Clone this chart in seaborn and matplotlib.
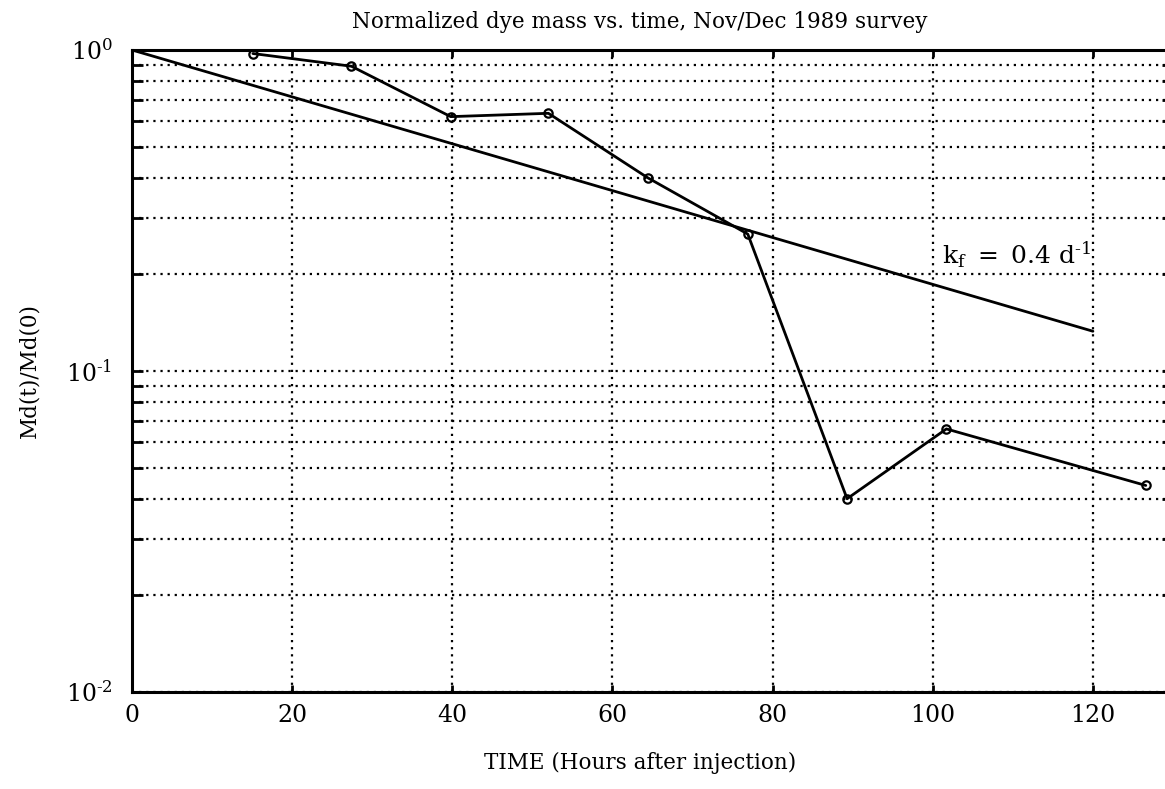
"""
Normalized dye mass vs. time (Nov/Dec 1989 survey), log-scale plot
"""

import numpy as np
import pandas as pd
import matplotlib
matplotlib.use("Agg")
import matplotlib.pyplot as plt
from matplotlib.ticker import LogLocator, NullFormatter, FixedLocator, FuncFormatter
import seaborn as sns

# Measured dye mass (normalized) at each survey time
time_hours = [15.1, 27.4, 39.8, 52.0, 64.4, 76.9, 89.3, 101.7, 126.6]
mass_ratio = [0.975, 0.89, 0.62, 0.635, 0.40, 0.267, 0.040, 0.066, 0.044]

# First-order decay fit, endpoints
fit_time = [0, 120]
fit_mass = [1.0, 0.133]

x_ticks = [0, 20, 40, 60, 80, 100, 120]

sns.set_theme(style="ticks")
plt.rcParams['font.family'] = ['DejaVu Serif']
plt.rcParams['mathtext.fontset'] = 'dejavuserif'
plt.rcParams['text.color'] = 'black'
plt.rcParams['axes.labelcolor'] = 'black'

W, H = 1165, 789
fig = plt.figure(figsize=(W / 100, H / 100), dpi=100)
# axes runs a little past the right edge, as in the scanned original
ax = fig.add_axes([132 / W, 1 - 692 / H, (1173 - 132) / W, (692 - 50) / H])

meas = pd.DataFrame({'t': time_hours, 'm': mass_ratio})
fit = pd.DataFrame({'t': fit_time, 'm': fit_mass})

sns.lineplot(data=fit, x='t', y='m', ax=ax, color='black', linewidth=2.0)
sns.lineplot(data=meas, x='t', y='m', ax=ax, color='black', linewidth=2.0,
             marker='o', markersize=6, markerfacecolor='none',
             markeredgecolor='black', markeredgewidth=1.6)

ax.set_yscale('log')
ax.set_xlim(0, 130)
ax.set_ylim(0.01, 1.0)


def decade_label(v, pos):
    # short hyphen in the exponent, like the original
    exp = int(round(np.log10(v)))
    sign = r'\text{-}' if exp < 0 else ''
    return r'$\mathregular{10^{%s%d}}$' % (sign, abs(exp))


ax.xaxis.set_major_locator(FixedLocator(x_ticks))
ax.yaxis.set_major_locator(LogLocator(base=10))
ax.yaxis.set_major_formatter(FuncFormatter(decade_label))
ax.yaxis.set_minor_locator(LogLocator(base=10, subs=np.arange(2, 10)))
ax.yaxis.set_minor_formatter(NullFormatter())

# dotted grid on every major/minor position
dot = (0, (1.0, 2.2))
ax.grid(which='major', axis='x', color='black', linestyle=dot, linewidth=1.6)
ax.grid(which='both', axis='y', color='black', linestyle=dot, linewidth=1.6)

ax.tick_params(axis='both', which='both', direction='in', colors='black',
               top=True, right=True, width=2.0)
ax.tick_params(axis='x', which='major', length=5, labelsize=17, pad=9)
ax.tick_params(axis='y', which='both', length=8, labelsize=17, pad=14)

for side in ['left', 'bottom', 'top', 'right']:
    ax.spines[side].set_linewidth(2.2)
    ax.spines[side].set_color('black')

ax.set_title('Normalized dye mass vs. time, Nov/Dec 1989 survey',
             fontsize=15.5, pad=16, x=0.488)
ax.set_xlabel('TIME (Hours after injection)', fontsize=15.5)
ax.set_ylabel('Md(t)/Md(0)', fontsize=15.5)
ax.xaxis.set_label_coords((640 - 132) / (1173 - 132), -(752 - 692) / (692 - 50))
ax.yaxis.set_label_coords(-(132 - 40) / (1173 - 132), 0.5)

ax.text(101.1, 0.23, r'$\mathregular{k_f\ =\ 0.4\ d^{\text{-}1}}$', fontsize=18,
        ha='left', va='center')

fig.savefig('out.png', dpi=100)
plt.close(fig)
